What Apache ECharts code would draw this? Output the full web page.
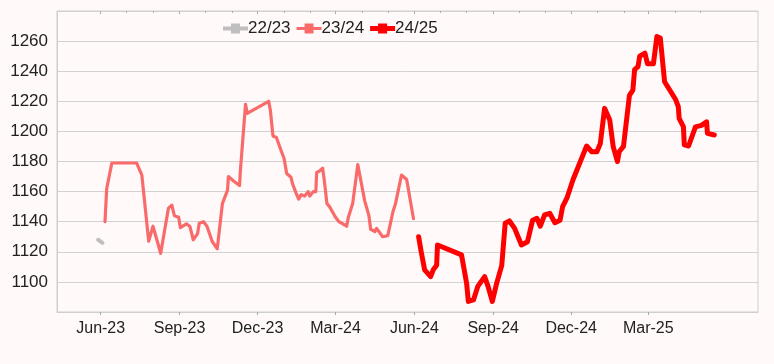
<!DOCTYPE html>
<html><head><meta charset="utf-8">
<script src="https://cdn.jsdelivr.net/npm/echarts@6/dist/echarts.min.js"></script>
<style>html,body{margin:0;padding:0;background:#fffaf9;}#c{width:774px;height:364px;}</style>
</head><body><div id="c"></div>
<script>
const seriesNames = ['22/23', '23/24', '24/25'];

const dates2223 = ['2023-05-29', '2023-06-03'];
const values2223 = [1128, 1126];

const dates2324 = ['2023-06-06','2023-06-08','2023-06-14','2023-07-13','2023-07-19','2023-07-27','2023-08-01','2023-08-10','2023-08-19','2023-08-23',
  '2023-08-26','2023-08-31','2023-09-02','2023-09-09','2023-09-13','2023-09-17','2023-09-22','2023-09-24','2023-09-29','2023-10-03',
  '2023-10-09','2023-10-15','2023-10-21','2023-10-27','2023-10-28','2023-11-03','2023-11-10','2023-11-11','2023-11-17','2023-11-19',
  '2023-12-14','2023-12-16','2023-12-19','2023-12-23','2023-12-29','2024-01-01','2024-01-04','2024-01-09','2024-01-11','2024-01-15',
  '2024-01-18','2024-01-21','2024-01-25','2024-01-29','2024-01-31','2024-02-04','2024-02-07','2024-02-08','2024-02-12','2024-02-15',
  '2024-02-17','2024-02-20','2024-02-23','2024-03-01','2024-03-05','2024-03-14','2024-03-16','2024-03-21','2024-03-27','2024-04-04',
  '2024-04-09','2024-04-11','2024-04-16','2024-04-18','2024-04-25','2024-05-01','2024-05-07','2024-05-10','2024-05-17','2024-05-23',
  '2024-05-31'];
const values2324 = [1140,1162,1179,1179,1171,1127,1137,1119,1149,1151,
  1144,1143,1136,1138.5,1137,1128,1132,1139,1140,1137,
  1127,1122,1152,1161,1170,1167,1164,1174,1218,1212,
  1220,1214,1197,1196,1186.5,1182,1172,1169.5,1165,1159,
  1155,1158,1157,1160,1157,1160,1160,1172.6,1174,1175.5,
  1167,1152,1150,1143,1140,1137,1143,1152,1178,1154,
  1144,1135,1133.5,1135.6,1130,1130.7,1146.6,1152,1171,1168,
  1142];

const dates2425 = ['2024-06-06','2024-06-09','2024-06-13','2024-06-20','2024-06-23','2024-06-27','2024-06-28','2024-07-26','2024-08-01','2024-08-03',
  '2024-08-09','2024-08-14','2024-08-22','2024-08-26','2024-08-31','2024-09-05','2024-09-11','2024-09-15','2024-09-20','2024-09-26',
  '2024-09-30','2024-10-04','2024-10-11','2024-10-17','2024-10-22','2024-10-26','2024-10-31','2024-11-06','2024-11-12','2024-11-18',
  '2024-11-21','2024-11-26','2024-12-03','2024-12-19','2024-12-25','2024-12-31','2025-01-04','2025-01-09','2025-01-15','2025-01-19',
  '2025-01-24','2025-01-26','2025-01-31','2025-02-07','2025-02-11','2025-02-13','2025-02-17','2025-02-19','2025-02-25','2025-02-28',
  '2025-03-07','2025-03-11','2025-03-15','2025-03-20','2025-03-26','2025-04-02','2025-04-05','2025-04-06','2025-04-11','2025-04-12',
  '2025-04-17','2025-04-19','2025-04-25','2025-05-02','2025-05-08','2025-05-09','2025-05-17'];
const values2425 = [1130,1120,1108,1103.5,1108,1111,1124.5,1118,1099,1087,
  1088,1097,1103.5,1097,1087,1099,1111,1139,1140.5,1135.6,
  1130,1124.5,1126.7,1141,1142.3,1137,1144.5,1145.6,1139.3,1141,
  1150,1155.6,1167.7,1190.3,1186.5,1186.5,1192,1215.3,1207.6,1190,
  1180,1186.5,1190,1224,1227.5,1241,1243,1250,1252,1245,
  1245,1263,1262,1233,1227.5,1221,1216.4,1208.7,1203,1191,
  1190.3,1189,1203,1204,1206.4,1198.7,1197.6];

const xMinDate = '2023-04-11';
const xMaxDate = '2025-07-07';
const majorTickDates = ['2023-06-01','2023-09-01','2023-12-01','2024-03-01','2024-06-01','2024-09-01','2024-12-01','2025-03-01'];
const minorTickDates = ['2023-06-01','2023-07-01','2023-08-01','2023-09-01','2023-10-01','2023-11-01','2023-12-01','2024-01-01',
  '2024-02-01','2024-03-01','2024-04-01','2024-05-01','2024-06-01','2024-07-01','2024-08-01','2024-09-01','2024-10-01','2024-11-01',
  '2024-12-01','2025-01-01','2025-02-01','2025-03-01','2025-04-01','2025-05-01'];
const monthNames = ['Jan','Feb','Mar','Apr','May','Jun','Jul','Aug','Sep','Oct','Nov','Dec'];
const yMin = 1080, yMax = 1280, yStep = 20;

function ts(s) { const p = s.split('-').map(Number); return Date.UTC(p[0], p[1] - 1, p[2]); }
function pairs(ds, vs) { return ds.map((d, i) => [ts(d), vs[i]]); }
function fmt(v) { const d = new Date(v); return monthNames[d.getUTCMonth()] + '-' + String(d.getUTCFullYear()).slice(2); }

const FONT = 'Liberation Sans, Arial, sans-serif';
const AX = '#cfcfcf';
const colors = ['#bfbfbf', '#f96b6b', '#ff0000'];
const widths = [4, 3.2, 5];
const icons = [
  'path://M0,3H8V0H17V3H25V7H17V10H8V7H0Z',
  'path://M0,3.5H8V0H17V3.5H25V6.5H17V10H8V6.5H0Z',
  'path://M0,2.5H8V0H17V2.5H25V7.5H17V10H8V7.5H0Z'
];

const baseX = { type: 'value', gridIndex: 0, min: ts(xMinDate), max: ts(xMaxDate), splitLine: { show: false } };

const chart = echarts.init(document.getElementById('c'), null, { renderer: 'canvas' });
chart.setOption({
  backgroundColor: '#fffaf9',
  animation: false,
  color: colors,
  grid: { left: 57, right: 16, top: 11, bottom: 52, show: true, borderColor: AX, borderWidth: 1, backgroundColor: 'transparent' },
  legend: {
    left: 218, top: 15, itemWidth: 25, itemHeight: 10, itemGap: 6,
    data: seriesNames.map((n, i) => ({ name: n, icon: icons[i], itemStyle: { color: colors[i] } })),
    textStyle: { fontFamily: FONT, fontSize: 17, color: '#222', padding: [0, 0, 0, -5] }
  },
  xAxis: [
    Object.assign({}, baseX, {
      axisLine: { show: true, lineStyle: { color: AX } },
      axisTick: { show: true, customValues: majorTickDates.map(ts), length: 3, lineStyle: { color: '#a8a8a8' } },
      axisLabel: { show: true, customValues: majorTickDates.map(ts), formatter: fmt, fontFamily: FONT, fontSize: 16, color: '#222', margin: 9 }
    }),
    Object.assign({}, baseX, {
      axisLine: { show: false },
      axisTick: { show: true, inside: true, customValues: majorTickDates.map(ts), length: 3, lineStyle: { color: '#a8a8a8' } },
      axisLabel: { show: false }
    }),
    Object.assign({}, baseX, {
      axisLine: { show: false },
      axisTick: { show: true, inside: true, customValues: minorTickDates.map(ts), length: 2, lineStyle: { color: '#b0b0b0' } },
      axisLabel: { show: false }
    })
  ],
  yAxis: {
    type: 'value', min: yMin, max: yMax, interval: yStep,
    axisLine: { show: true, lineStyle: { color: AX } },
    axisTick: { show: false },
    splitLine: { show: true, lineStyle: { color: '#d2d2d2', width: 1 } },
    axisLabel: { showMinLabel: false, showMaxLabel: false, formatter: v => String(v), fontFamily: FONT, fontSize: 17, color: '#222', margin: 9 }
  },
  series: [
    { name: seriesNames[0], data: pairs(dates2223, values2223) },
    { name: seriesNames[1], data: pairs(dates2324, values2324) },
    { name: seriesNames[2], data: pairs(dates2425, values2425) }
  ].map((s, i) => Object.assign(s, {
    type: 'line', xAxisIndex: 0, showSymbol: false, symbol: 'none',
    lineStyle: { color: colors[i], width: widths[i], cap: 'round', join: 'round' }
  }))
});
</script>
</body></html>
